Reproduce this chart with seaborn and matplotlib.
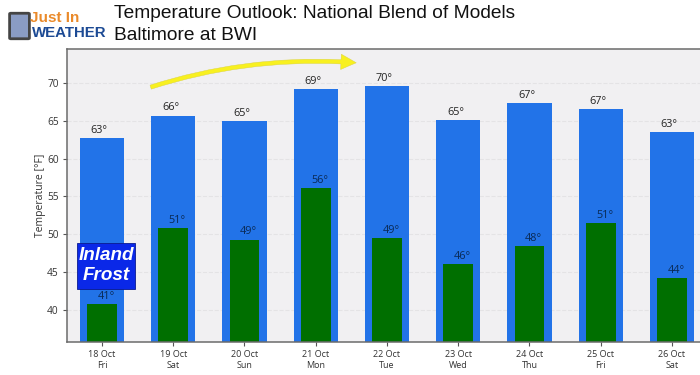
import matplotlib
matplotlib.use('Agg')
import matplotlib.pyplot as plt
import seaborn as sns
from matplotlib.patches import FancyArrowPatch, FancyBboxPatch, Rectangle

dates = ['18 Oct\nFri', '19 Oct\nSat', '20 Oct\nSun', '21 Oct\nMon', '22 Oct\nTue',
         '23 Oct\nWed', '24 Oct\nThu', '25 Oct\nFri', '26 Oct\nSat']
highs = [62.7, 65.7, 65.0, 69.2, 69.6, 65.1, 67.4, 66.6, 63.5]
lows = [40.8, 50.8, 49.3, 56.1, 49.5, 46.0, 48.4, 51.5, 44.2]
high_labels = ['63°', '66°', '65°', '69°', '70°', '65°', '67°', '67°', '63°']
low_labels = ['41°', '51°', '49°', '56°', '49°', '46°', '48°', '51°', '44°']
yticks = [40, 45, 50, 55, 60, 65, 70]

W, H = 700, 375

sns.set_theme(style='white')
plt.rcParams['font.family'] = ['Open Sans', 'DejaVu Sans']

fig = plt.figure(figsize=(7, 3.75), dpi=100, facecolor='white')
ax = fig.add_axes([67 / W, 1 - 342 / H, 633 / W, 293 / H], facecolor='#f1f0f2')

# grid goes under the bars
ax.set_axisbelow(True)
ax.yaxis.grid(True, color='#e4e3e5', linestyle='--', linewidth=0.8)

sns.barplot(x=dates, y=highs, color='#2273e8', width=0.62, saturation=1, linewidth=0, ax=ax)
sns.barplot(x=dates, y=lows, color='#006f00', width=0.42, saturation=1, linewidth=0, ax=ax)

ax.set_xlim(-0.491, 8.393)
ax.set_ylim(35.75, 74.5)
ax.set_yticks(yticks)
ax.set_ylabel('Temperature [°F]', fontsize=7.5, color='#333333', labelpad=1)
ax.tick_params(axis='both', length=3, width=0.8, color='#555555', labelcolor='#333333',
               labelsize=6.5, bottom=True, left=True, pad=3)
ax.tick_params(axis='y', labelsize=7.3)

for side in ['top', 'left', 'bottom']:
    ax.spines[side].set_color('#6b6b6b')
    ax.spines[side].set_linewidth(1.1)
ax.spines['right'].set_visible(False)

for i, (val, lab) in enumerate(zip(highs, high_labels)):
    ax.annotate(lab, (i, val), xytext=(-2, 1.5), textcoords='offset points',
                ha='center', va='bottom', fontsize=7.8, color='#222222')
for i, (val, lab) in enumerate(zip(lows, low_labels)):
    ax.annotate(lab, (i, val), xytext=(3, 1.5), textcoords='offset points',
                ha='center', va='bottom', fontsize=7.8, color='#0a2a55')


def fx(px):
    return px / W


def fy(py):
    return 1 - py / H


# title
fig.text(fx(114), fy(18), 'Temperature Outlook: National Blend of Models', family='Liberation Sans',
         fontsize=13.8, color='#111111', va='baseline')
fig.text(fx(114), fy(40), 'Baltimore at BWI', family='Liberation Sans',
         fontsize=13.8, color='#111111', va='baseline')

# logo
fig.add_artist(FancyBboxPatch((fx(11), fy(38)), 17 / W, 24 / H, boxstyle='round,pad=0.002',
                              transform=fig.transFigure, fc='#8a9cc4', ec='#444444', lw=2))
fig.text(fx(30), fy(22), 'Just In', family='Liberation Sans', fontsize=11, fontweight='bold',
         color='#ea8a2a', va='baseline')
fig.text(fx(32), fy(37), 'WEATHER', family='Liberation Sans', fontsize=10.8, fontweight='bold',
         color='#1c4a94', va='baseline')

# frost callout
fig.add_artist(Rectangle((fx(77), fy(289)), 58 / W, 46 / H, transform=fig.transFigure,
                         fc='#0a28e8', ec='#0a1a90', lw=0.6, zorder=5))
fig.text(fx(106), fy(255), 'Inland', family='Liberation Sans', fontsize=13.6, fontweight='bold',
         fontstyle='italic', color='white', ha='center', va='center', zorder=6)
fig.text(fx(106), fy(276), 'Frost', family='Liberation Sans', fontsize=13.6, fontweight='bold',
         fontstyle='italic', color='white', ha='center', va='center', zorder=6)

# yellow warming arrow
fig.add_artist(FancyArrowPatch((fx(148), fy(88)), (fx(359), fy(63)), transform=fig.transFigure,
                               connectionstyle='arc3,rad=-0.1',
                               arrowstyle='simple,head_width=11,head_length=11,tail_width=3',
                               fc='#f8f020', ec='#d8d040', lw=0.3, zorder=6))

fig.savefig('out.png', dpi=100)
